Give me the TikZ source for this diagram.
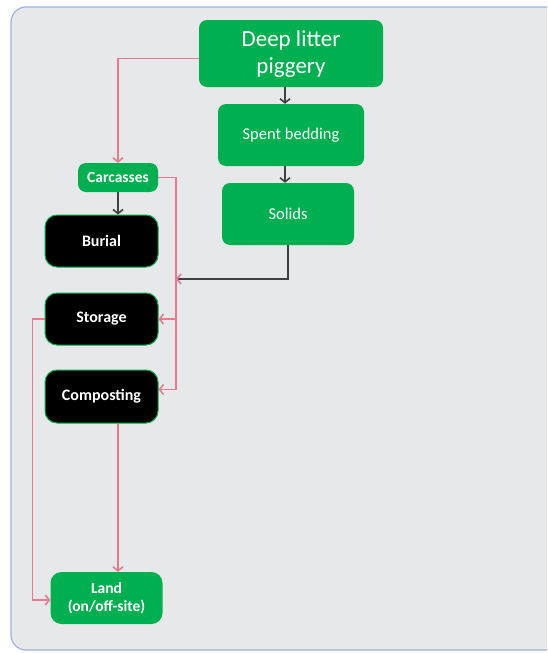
\documentclass[tikz,border=0pt]{standalone}
\usepackage{fontspec}
\setmainfont{Carlito}
\usetikzlibrary{arrows.meta}
\definecolor{boxgreen}{HTML}{00B050}
\definecolor{flowpink}{HTML}{E8798F}
\definecolor{flowgray}{HTML}{404040}
\definecolor{panelfill}{HTML}{E7E8EA}
\definecolor{panelline}{HTML}{9DB3D9}
\tikzset{
  greenbox/.style={fill=boxgreen, text=white, rounded corners=8pt, inner sep=0pt, align=center},
  darkbox/.style={fill=black, draw=boxgreen, line width=1pt, text=white, rounded corners=12pt,
    inner sep=0pt, align=center, font=\fontsize{16}{18}\selectfont\bfseries},
  pinkflow/.style={draw=flowpink, line width=1.6pt, -{Straight Barb[length=4pt,width=10pt]}},
  grayflow/.style={draw=flowgray, line width=1.6pt, -{Straight Barb[length=4pt,width=10pt]}},
}
\begin{document}
\begin{tikzpicture}[x=1pt,y=-1pt]
\useasboundingbox (0,0) rectangle (547,653);
\clip (0,0) rectangle (547,653);
\fill[white] (0,0) rectangle (547,653);
% background panel (runs off the right edge)
\draw[panelline, fill=panelfill, line width=1.2pt, rounded corners=15pt] (11,7) rectangle (580,650);

% boxes
\node[greenbox, minimum width=184pt, minimum height=67pt, font=\fontsize{23}{27}\selectfont]
  (dl) at (291,53.5) {Deep litter\\piggery};
\node[greenbox, minimum width=146pt, minimum height=62pt, font=\fontsize{16.5}{19}\selectfont]
  (sb) at (291,135) {Spent bedding};
\node[greenbox, minimum width=132pt, minimum height=62pt, font=\fontsize{16.5}{19}\selectfont]
  (so) at (288,214) {Solids};
\node[greenbox, minimum width=80pt, minimum height=29pt, font=\fontsize{15.5}{17}\selectfont\bfseries]
  (ca) at (118,177.5) {Carcasses};
\node[darkbox, minimum width=113pt, minimum height=52pt] (bu) at (101.5,241) {Burial};
\node[darkbox, minimum width=113pt, minimum height=52pt] (st) at (101.5,319) {Storage};
\node[darkbox, minimum width=113pt, minimum height=53pt] (co) at (101.5,396.5) {Composting};
\node[greenbox, rounded corners=11pt, minimum width=112pt, minimum height=52pt,
  font=\fontsize{15.5}{18}\selectfont\bfseries] (la) at (106.5,598) {Land\\(on/off-site)};

% main chain
\draw[grayflow] ([xshift=-6pt]dl.south) -- ([xshift=-6pt]sb.north);
\draw[grayflow] ([xshift=-6pt]sb.south) -- ([xshift=-6pt]sb.south |- so.north);
\draw[grayflow] (ca.south) -- (ca.south |- bu.north);

% carcasses branch
\draw[pinkflow] ([yshift=-5pt]dl.west) -| (ca.north);
\draw[pinkflow] (ca.east) -- ++(18,0) coordinate (rj) |- ([yshift=7pt]co.east);
\draw[pinkflow] (rj |- st.east) -- (st.east);

% solids join the pink line
\coordinate (sj) at (176,279);
\draw[draw=flowgray, line width=1.6pt, -{Straight Barb[length=4pt,width=10pt,color=flowpink]}]
  (so.south) |- (sj);

% to land
\draw[pinkflow] (co.south -| ca) -- (la.north -| ca);
\draw[pinkflow] (st.west) -- ++(-12,0) |- ([yshift=-2pt]la.west);
\end{tikzpicture}
\end{document}
